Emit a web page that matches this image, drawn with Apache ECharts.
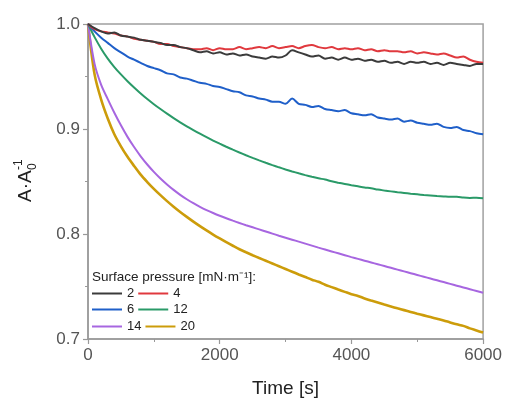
<!DOCTYPE html>
<html><head><meta charset="utf-8">
<script src="https://cdn.jsdelivr.net/npm/echarts@6/dist/echarts.min.js"></script>
<style>html,body{margin:0;padding:0;background:#fff}#c{width:505px;height:403px}</style>
</head><body><div id="c"></div>
<script>
const times = [0,100,200,300,400,500,600,700,800,900,1000,1100,1200,1300,1400,1500,1600,1700,1800,1900,2000,2100,2200,2300,2400,2500,2600,2700,2800,2900,3000,3100,3200,3300,3400,3500,3600,3700,3800,3900,4000,4100,4200,4300,4400,4500,4600,4700,4800,4900,5000,5100,5200,5300,5400,5500,5600,5700,5800,5900,6000];
const p2  = [1.000,0.996,0.993,0.991,0.992,0.989,0.988,0.987,0.985,0.984,0.983,0.982,0.980,0.980,0.978,0.977,0.975,0.973,0.974,0.972,0.973,0.971,0.972,0.970,0.971,0.969,0.968,0.967,0.969,0.968,0.970,0.975,0.973,0.971,0.969,0.970,0.967,0.968,0.966,0.968,0.966,0.967,0.965,0.966,0.964,0.965,0.963,0.964,0.962,0.964,0.963,0.964,0.962,0.963,0.961,0.963,0.962,0.961,0.960,0.962,0.962];
const p4  = [1.000,0.995,0.993,0.992,0.991,0.989,0.988,0.986,0.985,0.984,0.983,0.981,0.981,0.979,0.978,0.977,0.976,0.976,0.977,0.975,0.977,0.976,0.976,0.978,0.976,0.977,0.978,0.977,0.979,0.977,0.978,0.979,0.977,0.979,0.980,0.978,0.977,0.978,0.976,0.977,0.976,0.977,0.975,0.976,0.974,0.975,0.974,0.974,0.973,0.974,0.972,0.973,0.972,0.971,0.972,0.970,0.968,0.969,0.966,0.964,0.963];
const p6  = [1.000,0.993,0.987,0.982,0.977,0.973,0.969,0.966,0.963,0.960,0.958,0.956,0.953,0.952,0.949,0.948,0.946,0.944,0.943,0.941,0.940,0.938,0.936,0.935,0.932,0.931,0.929,0.928,0.926,0.926,0.924,0.929,0.924,0.923,0.921,0.922,0.919,0.918,0.917,0.918,0.915,0.914,0.913,0.914,0.911,0.910,0.909,0.910,0.907,0.908,0.906,0.905,0.904,0.905,0.902,0.901,0.902,0.899,0.898,0.896,0.895];
const p12 = [1.0000,0.9875,0.9765,0.9670,0.9590,0.9520,0.9455,0.9395,0.9338,0.9285,0.9236,0.9190,0.9146,0.9104,0.9064,0.9026,0.8990,0.8955,0.8922,0.8890,0.8860,0.8831,0.8803,0.8776,0.8750,0.8725,0.8701,0.8678,0.8656,0.8635,0.8615,0.8596,0.8578,0.8561,0.8545,0.8530,0.8519,0.8502,0.8489,0.8477,0.8465,0.8454,0.8443,0.8436,0.8423,0.8414,0.8406,0.8398,0.8391,0.8384,0.8378,0.8372,0.8367,0.8362,0.8358,0.8354,0.8354,0.8347,0.8344,0.8345,0.8340];
const p14 = [1.0000,0.9620,0.9420,0.9285,0.9155,0.9035,0.8925,0.8828,0.8740,0.8662,0.8592,0.8529,0.8472,0.8420,0.8373,0.8331,0.8293,0.8259,0.8228,0.8200,0.8174,0.8150,0.8127,0.8105,0.8084,0.8064,0.8044,0.8024,0.8004,0.7984,0.7965,0.7946,0.7927,0.7908,0.7889,0.7870,0.7852,0.7834,0.7816,0.7798,0.7780,0.7763,0.7746,0.7729,0.7712,0.7695,0.7678,0.7661,0.7644,0.7627,0.7610,0.7593,0.7576,0.7559,0.7542,0.7525,0.7508,0.7491,0.7474,0.7457,0.7440];
const p20 = [1.0000,0.9520,0.9280,0.9100,0.8950,0.8835,0.8735,0.8648,0.8565,0.8495,0.8430,0.8370,0.8313,0.8260,0.8210,0.8163,0.8118,0.8075,0.8034,0.7995,0.7958,0.7922,0.7888,0.7855,0.7826,0.7798,0.7771,0.7745,0.7719,0.7693,0.7667,0.7641,0.7615,0.7590,0.7565,0.7545,0.7517,0.7494,0.7471,0.7449,0.7427,0.7410,0.7386,0.7366,0.7347,0.7328,0.7310,0.7292,0.7275,0.7258,0.7241,0.7225,0.7209,0.7193,0.7177,0.7158,0.7140,0.7125,0.7101,0.7081,0.7061];
const names = ['2','4','6','12','14','20'];
const colors = ['#3b3b3b','#e0393e','#1f5fc9','#2a9a68','#a766e0','#cc9c0a'];
const yTicks = [0.7,0.8,0.9,1.0];
const xTicks = [0,2000,4000,6000];

const vals = [p2,p4,p6,p12,p14,p20];
const chart = echarts.init(document.getElementById('c'));
const series = names.map((n,i)=>({
  name:n, type:'line', showSymbol:false, symbol:'none', smooth:0.3,
  data: times.map((t,k)=>[t, vals[i][k]]),
  lineStyle:{color:colors[i], width: i===5?2.6:2},
  itemStyle:{color:colors[i]}, z: 10-i
}));
const legendCommon = {
  left:92, itemWidth:30, itemHeight:2, itemGap:4, icon:'rect', padding:0,
  textStyle:{fontSize:13, color:'#222', fontFamily:'Liberation Sans, Arial'}
};
chart.setOption({
  animation:false,
  grid:{left:88,right:21,top:24,bottom:61,show:true,borderColor:'#a0a0a0',borderWidth:1.5},
  xAxis:{type:'value',min:0,max:6000,interval:2000,
    axisLine:{show:true,lineStyle:{color:'#999',width:1.5}},
    axisTick:{show:true,length:5,lineStyle:{color:'#999',width:1.2}},
    minorTick:{show:true,splitNumber:2,length:3,lineStyle:{color:'#999'}},
    splitLine:{show:false},
    axisLabel:{fontSize:17,color:'#555',margin:8,fontFamily:'Liberation Sans, Arial',formatter:v=>String(v)},
    name:'Time [s]',nameLocation:'middle',nameGap:40,
    nameTextStyle:{fontSize:19,color:'#222',fontFamily:'Liberation Sans, Arial'}
  },
  yAxis:{type:'value',min:0.7,max:1.0,interval:0.1,
    axisLine:{show:true,lineStyle:{color:'#999',width:1.5}},
    axisTick:{show:true,length:5,lineStyle:{color:'#999',width:1.2}},
    minorTick:{show:true,splitNumber:2,length:3,lineStyle:{color:'#999'}},
    splitLine:{show:false},
    axisLabel:{fontSize:17,color:'#555',margin:8,fontFamily:'Liberation Sans, Arial',formatter:v=>v.toFixed(1)}
  },
  legend:[
    Object.assign({top:287,data:[names[0],names[1]]},legendCommon),
    Object.assign({top:303,data:[names[2],names[3]]},legendCommon),
    Object.assign({top:320,data:[names[4],names[5]]},legendCommon)
  ],
  graphic:[
    {type:'text',left:92,top:270,style:{text:'Surface pressure [mN·m⁻¹]:',fontSize:13.5,fill:'#222',fontFamily:'Liberation Sans, Arial'}},
    {type:'group',x:26,y:202,rotation:Math.PI/2,children:[
      {type:'text',x:0,y:0,style:{text:'A·A',fontSize:19,fill:'#222',fontFamily:'Liberation Sans, Arial',verticalAlign:'middle',align:'left'}},
      {type:'text',x:32,y:-7,style:{text:'-1',fontSize:12,fill:'#222',fontFamily:'Liberation Sans, Arial',verticalAlign:'middle',align:'left'}},
      {type:'text',x:32,y:7,style:{text:'0',fontSize:12,fill:'#222',fontFamily:'Liberation Sans, Arial',verticalAlign:'middle',align:'left'}}
    ]}
  ],
  series: series
});
</script></body></html>
